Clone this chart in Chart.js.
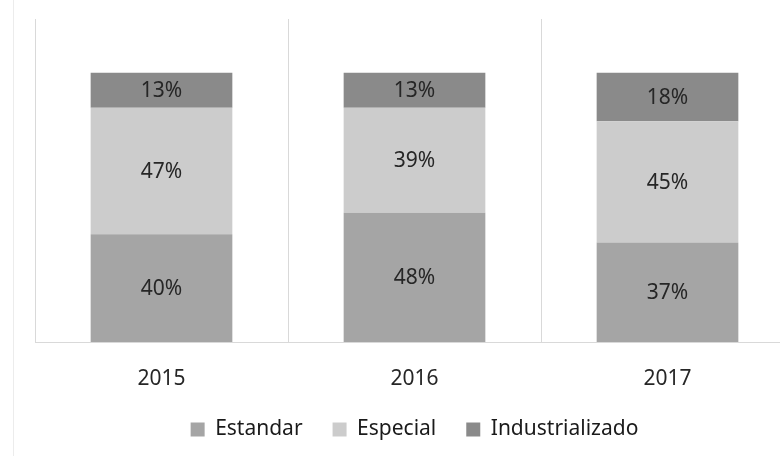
<!DOCTYPE html>
<html>
<head>
<meta charset="utf-8">
<script src="https://cdn.jsdelivr.net/npm/chart.js@4"></script>
<style>
  html, body { margin: 0; padding: 0; background: #fff; overflow: hidden; }
  #wrap { position: relative; width: 840px; height: 456px; }
  #frame { position: absolute; left: 13px; top: 0; width: 1px; height: 456px; background: #ececec; }
</style>
</head>
<body>
<div id="wrap">
  <div id="frame"></div>
  <canvas id="bar-chart" width="840" height="456"></canvas>
</div>
<script>
const years = ['2015', '2016', '2017']
const estandar = [40, 48, 37]
const especial = [47, 39, 45]
const industrializado = [13, 13, 18]

// percent labels in the middle of every segment
const labelPlugin = {
  id: 'segmentLabels',
  afterDatasetsDraw(chart) {
    const ctx = chart.ctx;
    ctx.save();
    ctx.font = '21px "Noto Sans"';
    ctx.fillStyle = '#262626';
    ctx.textAlign = 'center';
    ctx.textBaseline = 'middle';
    chart.data.datasets.forEach((ds, i) => {
      chart.getDatasetMeta(i).data.forEach((bar, j) => {
        ctx.fillText(ds.data[j] + '%', bar.x, (bar.y + bar.base) / 2 + 1);
      });
    });
    ctx.restore();
  }
};

const barCanvas = document.getElementById('bar-chart').getContext('2d');
new Chart(barCanvas, {
  type: 'bar',
  data: {
    labels: years,
    datasets: [
      { label: 'Estandar', data: estandar, backgroundColor: '#a5a5a5' },
      { label: 'Especial', data: especial, backgroundColor: '#cccccc' },
      { label: 'Industrializado', data: industrializado, backgroundColor: '#8a8a8a' }
    ]
  },
  options: {
    responsive: false,
    animation: false,
    layout: { padding: { left: 35, right: 46, top: 19, bottom: 6 } },
    datasets: { bar: { barPercentage: 1, categoryPercentage: 0.56 } },
    scales: {
      x: {
        stacked: true,
        grid: { color: '#d9d9d9', offset: true, drawTicks: false },
        border: { color: '#d9d9d9' },
        ticks: { color: '#262626', font: { family: 'Noto Sans', size: 21 }, padding: 24 },
        afterFit(scale) { scale.height = 47; }
      },
      y: { stacked: true, display: false, min: 0, max: 120 }
    },
    plugins: {
      tooltip: { enabled: false },
      legend: {
        position: 'bottom',
        labels: {
          boxWidth: 14, boxHeight: 14, padding: 30,
          color: '#1a1a1a',
          font: { family: 'Noto Sans', size: 21 }
        }
      }
    }
  },
  plugins: [labelPlugin]
});
</script>
</body>
</html>
